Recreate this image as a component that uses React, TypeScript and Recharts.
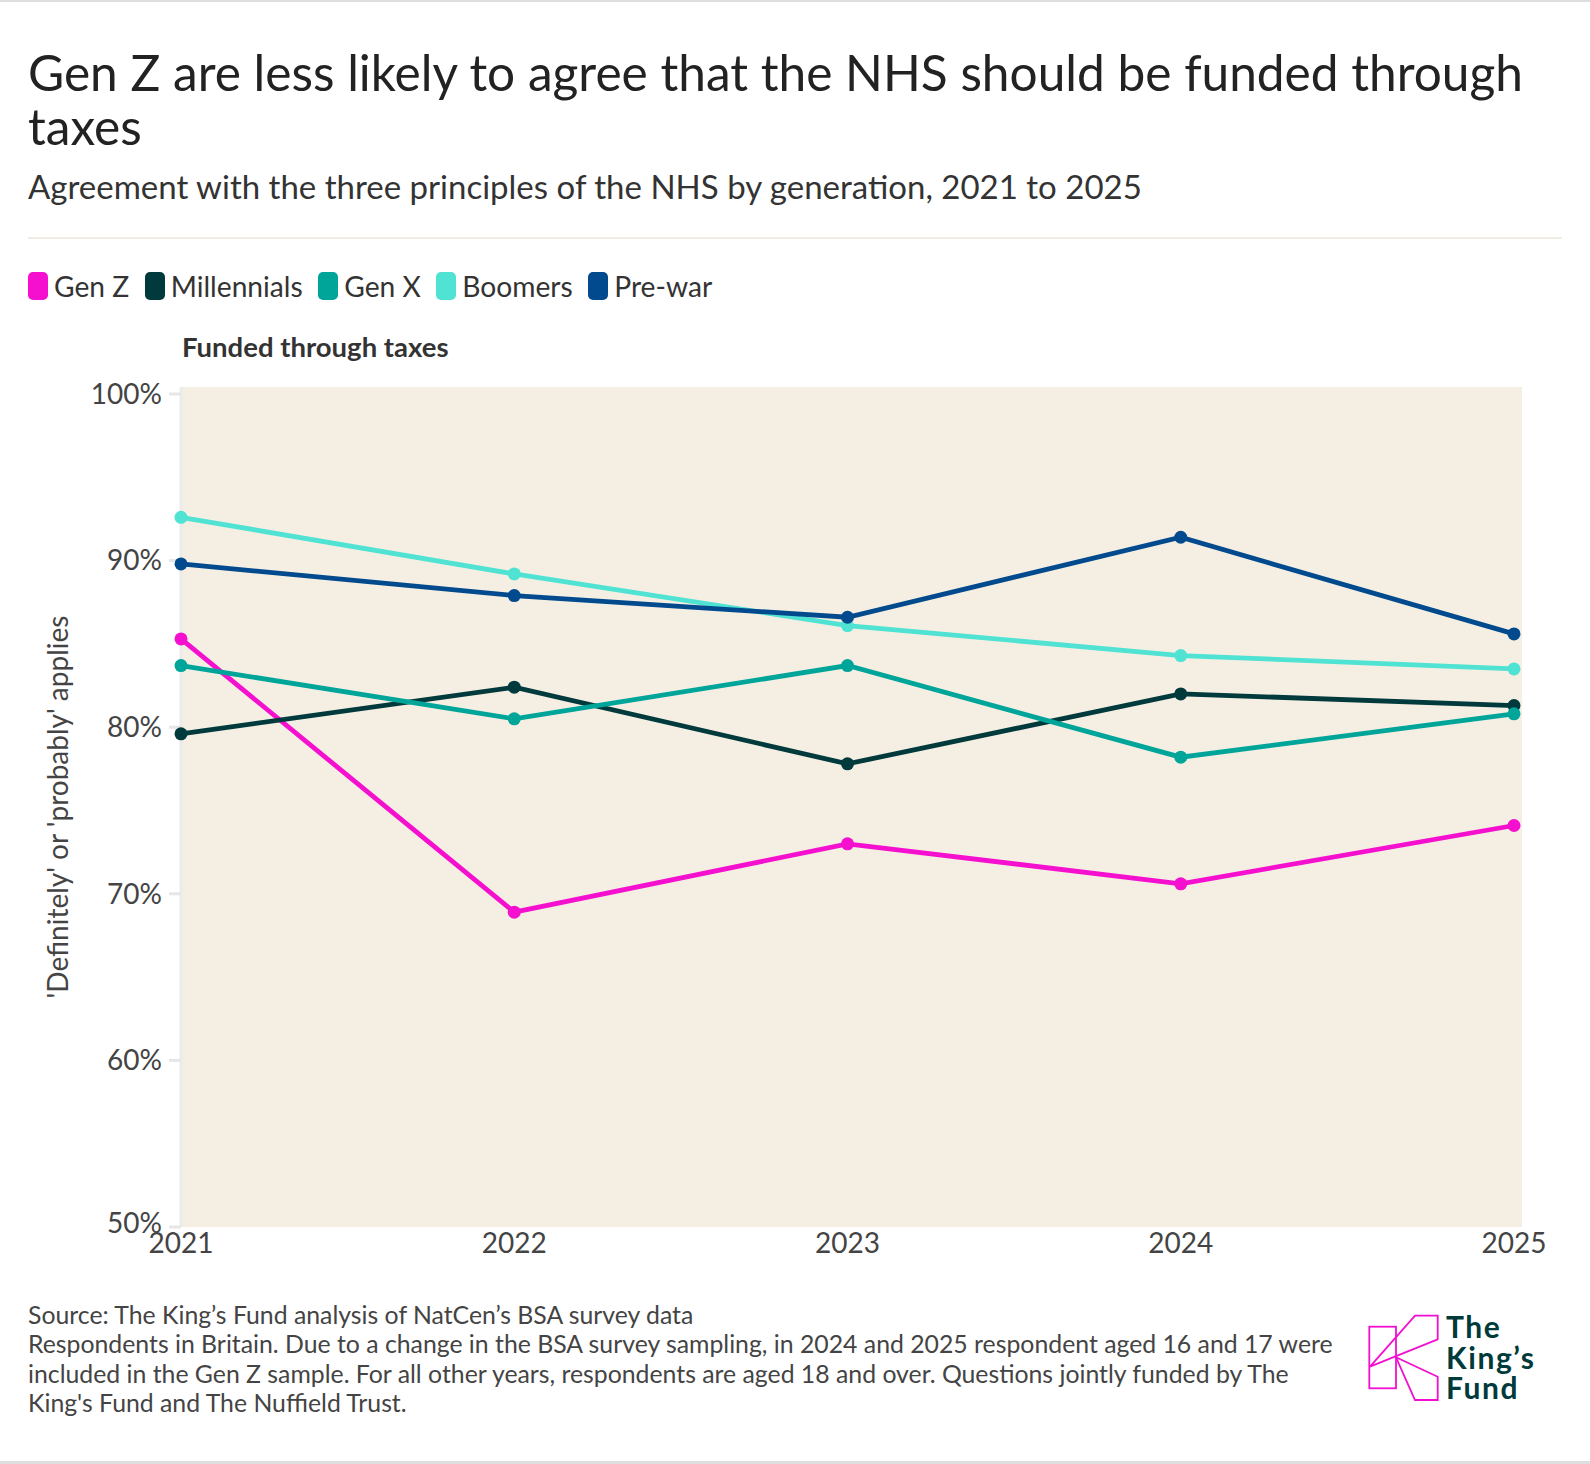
import { CartesianGrid, Line, LineChart, XAxis, YAxis } from 'recharts';

const YEARS = ['2021', '2022', '2023', '2024', '2025'];
const GEN_Z = [85.3, 68.9, 73.0, 70.6, 74.1];
const MILLENNIALS = [79.6, 82.4, 77.8, 82.0, 81.3];
const GEN_X = [83.7, 80.5, 83.7, 78.2, 80.8];
const BOOMERS = [92.6, 89.2, 86.1, 84.3, 83.5];
const PRE_WAR = [89.8, 87.9, 86.6, 91.4, 85.6];
const Y_TICKS = [50, 60, 70, 80, 90, 100];

const SERIES = [
  { key: 'genZ', name: 'Gen Z', color: '#f50fcf', values: GEN_Z },
  { key: 'millennials', name: 'Millennials', color: '#003a3c', values: MILLENNIALS },
  { key: 'genX', name: 'Gen X', color: '#00a59a', values: GEN_X },
  { key: 'boomers', name: 'Boomers', color: '#50e3d3', values: BOOMERS },
  { key: 'preWar', name: 'Pre-war', color: '#004a8d', values: PRE_WAR },
];

const FONT = 'Lato, "Noto Sans", sans-serif';
const AXIS_TEXT = '#444';

const chartData = YEARS.map((year, i) => {
  const row: Record<string, string | number> = { year };
  SERIES.forEach((s) => {
    row[s.key] = s.values[i];
  });
  return row;
});

// the bottom label sits a little higher so it clears the year labels
function YTick(props: any) {
  const { x, y, payload } = props;
  const shift = payload.value === 50 ? -4 : 0;
  return (
    <text
      x={x}
      y={y + shift}
      dy="0.35em"
      textAnchor="end"
      fontSize={28}
      fill={AXIS_TEXT}
    >
      {`${payload.value}%`}
    </text>
  );
}

function YLabel(props: any) {
  const { viewBox } = props;
  const cx = viewBox.x + 57;
  const cy = viewBox.y + viewBox.height / 2;
  return (
    <text
      x={cx}
      y={cy}
      transform={`rotate(-90, ${cx}, ${cy})`}
      textAnchor="middle"
      dominantBaseline="central"
      fontSize={28}
      fill={AXIS_TEXT}
    >
      'Definitely' or 'probably' applies
    </text>
  );
}

const FOOTNOTE = [
  'Source: The King’s Fund analysis of NatCen’s BSA survey data',
  'Respondents in Britain. Due to a change in the BSA survey sampling, in 2024 and 2025 respondent aged 16 and 17 were',
  'included in the Gen Z sample. For all other years, respondents are aged 18 and over. Questions jointly funded by The',
  "King's Fund and The Nuffield Trust.",
];

function Logo() {
  const pink = '#f20fcf';
  return (
    <div style={{ position: 'absolute', left: 1360, top: 1306, width: 220, height: 110 }}>
      <svg width={90} height={110} style={{ position: 'absolute', left: 0, top: 0 }}>
        <g fill="none" stroke={pink} strokeWidth={1.8} strokeLinejoin="miter">
          <rect x={9.3} y={20.7} width={26.7} height={61.6} />
          <polygon points="10,60.7 55,9.7 77.7,9.7 77.7,33.3" />
          <polygon points="36,51.3 77.7,70.7 77.7,94 55,94" />
        </g>
      </svg>
      <div
        style={{
          position: 'absolute',
          left: 86,
          top: 5,
          fontFamily: FONT,
          fontWeight: 700,
          fontSize: 30,
          lineHeight: '30.5px',
          letterSpacing: 1.6,
          color: '#003a3a',
        }}
      >
        <div>The</div>
        <div>King’s</div>
        <div>Fund</div>
      </div>
    </div>
  );
}

export default function App() {
  return (
    <div
      style={{
        position: 'absolute',
        left: 0,
        top: 0,
        width: 1590,
        height: 1464,
        background: '#fff',
        fontFamily: FONT,
        overflow: 'hidden',
      }}
    >
      <div style={{ position: 'absolute', left: 0, top: 0, width: 1590, height: 2, background: '#dedede' }} />
      <div style={{ position: 'absolute', left: 0, top: 1461, width: 1590, height: 3, background: '#dedede' }} />

      <div
        style={{
          position: 'absolute',
          left: 28,
          top: 45,
          width: 1545,
          fontSize: 49.6,
          lineHeight: '54px',
          color: '#222',
        }}
      >
        Gen Z are less likely to agree that the NHS should be funded through
        <br />
        taxes
      </div>
      <div
        style={{
          position: 'absolute',
          left: 28,
          top: 166,
          fontSize: 33,
          lineHeight: '40px',
          color: '#333',
          whiteSpace: 'nowrap',
        }}
      >
        Agreement with the three principles of the NHS by generation, 2021 to 2025
      </div>
      <div style={{ position: 'absolute', left: 28, top: 237, width: 1534, height: 2, background: '#f1ece1' }} />

      <div
        style={{
          position: 'absolute',
          left: 28,
          top: 272,
          height: 28,
          display: 'flex',
          alignItems: 'center',
        }}
      >
        {SERIES.map((s) => (
          <div key={s.key} style={{ display: 'flex', alignItems: 'center', marginRight: 15.5 }}>
            <div style={{ width: 20, height: 28, borderRadius: 5, background: s.color, marginRight: 6 }} />
            <span style={{ fontSize: 28.2, color: '#333', lineHeight: '28px' }}>{s.name}</span>
          </div>
        ))}
      </div>

      <div
        style={{
          position: 'absolute',
          left: 182,
          top: 332,
          fontSize: 27.5,
          fontWeight: 700,
          lineHeight: '30px',
          color: '#333',
        }}
      >
        Funded through taxes
      </div>

      <div style={{ position: 'absolute', left: 0, top: 370 }}>
        <LineChart
          width={1590}
          height={900}
          data={chartData}
          margin={{ top: 17, right: 68, bottom: 0, left: 0 }}
        >
          <CartesianGrid fill="#f5efe3" horizontal={false} vertical={false} />
          <XAxis
            dataKey="year"
            height={43}
            axisLine={false}
            tickLine={false}
            tickSize={0}
            tickMargin={6}
            padding={{ left: 0, right: 8 }}
            tick={{ fontSize: 28, fill: AXIS_TEXT }}
            interval={0}
          />
          <YAxis
            width={181}
            domain={[50, 100]}
            ticks={Y_TICKS}
            padding={{ top: 7, bottom: 0 }}
            axisLine={{ stroke: '#ebebeb', strokeWidth: 3 }}
            tickLine={{ stroke: '#e6e6e6', strokeWidth: 3 }}
            tickSize={12}
            tickMargin={7}
            tick={<YTick />}
            label={<YLabel />}
          />
          {SERIES.map((s) => (
            <Line
              key={s.key}
              type="linear"
              dataKey={s.key}
              name={s.name}
              stroke={s.color}
              strokeWidth={4.8}
              dot={{ r: 6.5, fill: s.color, stroke: 'none' }}
              activeDot={false}
              isAnimationActive={false}
            />
          ))}
        </LineChart>
      </div>

      <div
        style={{
          position: 'absolute',
          left: 28,
          top: 1300,
          fontSize: 24.8,
          lineHeight: '29.4px',
          color: '#444',
          whiteSpace: 'nowrap',
        }}
      >
        {FOOTNOTE.map((line) => (
          <div key={line}>{line}</div>
        ))}
      </div>

      <Logo />
    </div>
  );
}
